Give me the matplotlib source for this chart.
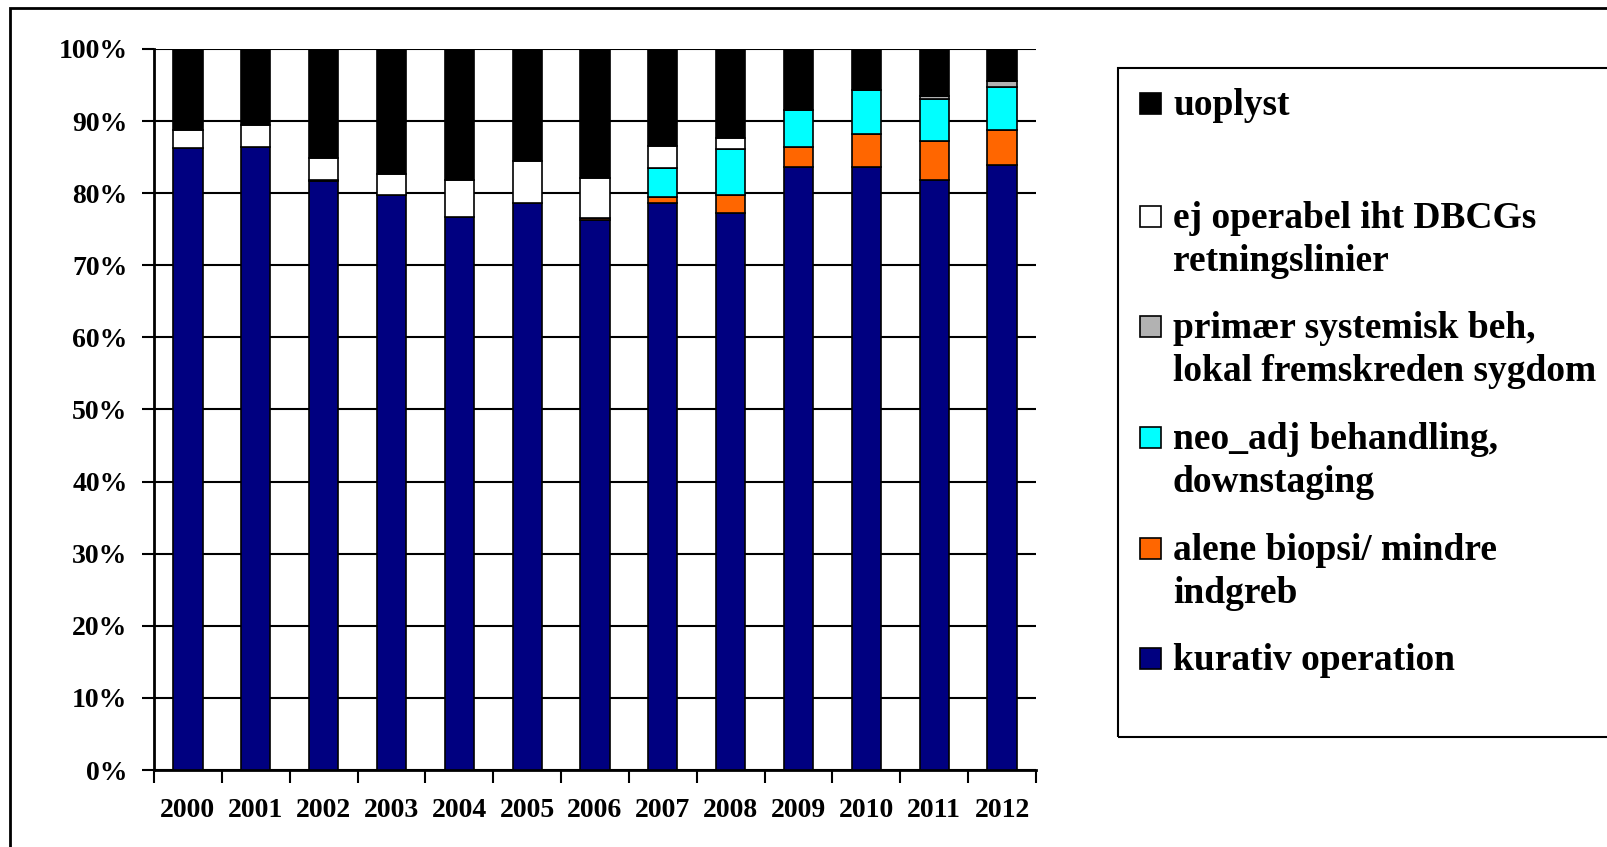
import numpy as np
import matplotlib
matplotlib.use("Agg")
import matplotlib.pyplot as plt
from matplotlib.patches import Rectangle
from matplotlib.ticker import PercentFormatter

years = ["2000", "2001", "2002", "2003", "2004", "2005", "2006",
         "2007", "2008", "2009", "2010", "2011", "2012"]

# percent shares, bottom to top
kurativ = [86.2, 86.4, 81.7, 79.8, 76.7, 78.7, 76.3, 78.6, 77.3, 83.6, 83.6, 81.9, 83.9]
alene   = [0.0, 0.0, 0.2, 0.0, 0.0, 0.0, 0.2, 0.9, 2.5, 2.8, 4.6, 5.3, 4.9]
neo_adj = [0.0, 0.0, 0.0, 0.0, 0.0, 0.0, 0.0, 4.0, 6.3, 5.2, 6.1, 5.8, 5.9]
primaer = [0.0, 0.0, 0.0, 0.0, 0.0, 0.0, 0.0, 0.0, 0.0, 0.0, 0.0, 0.5, 0.8]
ej_oper = [2.6, 3.1, 3.0, 2.8, 5.1, 5.8, 5.6, 3.0, 1.5, 0.0, 0.0, 0.0, 0.0]
uoplyst = [11.2, 10.5, 15.1, 17.4, 18.2, 15.5, 17.9, 13.5, 12.4, 8.4, 5.7, 6.5, 4.5]

series = [
    ("kurativ operation", kurativ, "#000080"),
    ("alene biopsi/ mindre\nindgreb", alene, "#FF6600"),
    ("neo_adj behandling,\ndownstaging", neo_adj, "#00FFFF"),
    ("primær systemisk beh,\nlokal fremskreden sygdom", primaer, "#B2B2B2"),
    ("ej operabel iht DBCGs\nretningslinier", ej_oper, "#FFFFFF"),
    ("uoplyst", uoplyst, "#000000"),
]

W, H = 1608, 847
fig = plt.figure(figsize=(W / 100, H / 100), dpi=100)
plt.rcParams["font.family"] = ["Liberation Serif", "DejaVu Serif"]


def fx(px):
    return px / W


def fy(py):
    return 1 - py / H


ax = fig.add_axes([fx(154), fy(770), fx(1036) - fx(154), fy(49) - fy(770)])

x = np.arange(len(years))
bottom = np.zeros(len(years))
for label, vals, color in series:
    vals = np.array(vals)
    ax.bar(x, vals, 0.43, bottom=bottom, color=color,
           edgecolor="black", linewidth=1.2, zorder=3)
    bottom += vals

ax.set_xlim(-0.5, len(years) - 0.5)
ax.set_ylim(0, 100)
ax.set_yticks(np.arange(0, 101, 10))
ax.yaxis.set_major_formatter(PercentFormatter(decimals=0))
ax.set_xticks(x)
ax.set_xticklabels(years, fontsize=20, fontweight="bold")
ax.set_xticks(np.arange(-0.5, len(years)), minor=True)
ax.tick_params(axis="x", which="major", length=0, pad=20)
ax.tick_params(axis="x", which="minor", length=9, width=1.5, direction="out")
ax.tick_params(axis="y", length=9, width=1.5, direction="out", pad=10)
for lab in ax.get_yticklabels():
    lab.set_fontsize(20)
    lab.set_fontweight("bold")
ax.grid(True, axis="y", color="black", linewidth=1.5, zorder=0)
for side in ["top", "right"]:
    ax.spines[side].set_visible(False)
ax.spines["left"].set_linewidth(2)
ax.spines["bottom"].set_linewidth(2)

# outer chart border
fig.add_artist(Rectangle((fx(10), fy(900)), fx(1700) - fx(10), fy(8) - fy(900),
                         transform=fig.transFigure, fill=False,
                         edgecolor="black", linewidth=2))

# legend box, drawn by hand to match the Excel layout
fig.add_artist(Rectangle((fx(1118), fy(737)), fx(1700) - fx(1118), fy(68) - fy(737),
                         transform=fig.transFigure, fill=False,
                         edgecolor="black", linewidth=1.5))
entry_y = [659, 549, 438, 327, 217, 104]
for (label, vals, color), yy in zip(series, entry_y):
    fig.add_artist(Rectangle((fx(1140), fy(yy + 10)), fx(21), fy(yy - 11) - fy(yy + 10),
                             transform=fig.transFigure, facecolor=color,
                             edgecolor="black", linewidth=1.2))
    fig.text(fx(1173), fy(yy + 11), label.split("\n")[0], fontsize=27,
             fontweight="bold", va="baseline", ha="left")
    if "\n" in label:
        fig.text(fx(1173), fy(yy + 54), label.split("\n")[1], fontsize=27,
                 fontweight="bold", va="baseline", ha="left")

fig.savefig("out.png", dpi=100)
